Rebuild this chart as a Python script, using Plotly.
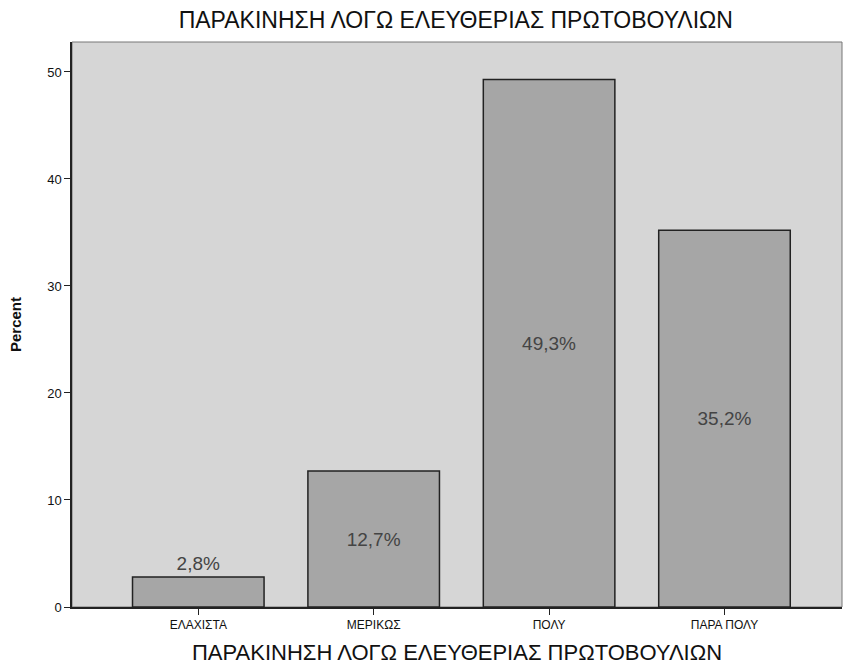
import plotly.graph_objects as go

categories = ["ΕΛΑΧΙΣΤΑ", "ΜΕΡΙΚΩΣ", "ΠΟΛΥ", "ΠΑΡΑ ΠΟΛΥ"]
percent = [2.8, 12.7, 49.3, 35.2]
y_ticks = [0, 10, 20, 30, 40, 50]

title = "ΠΑΡΑΚΙΝΗΣΗ ΛΟΓΩ ΕΛΕΥΘΕΡΙΑΣ ΠΡΩΤΟΒΟΥΛΙΩΝ"
narrow = "Liberation Sans Narrow, Arial Narrow, Liberation Sans, sans-serif"

labels = [f"{v:.1f}%".replace(".", ",") for v in percent]
# the smallest bar gets its label above it, like the original
positions = ["outside" if v < 5 else "inside" for v in percent]

fig = go.Figure()
fig.add_trace(go.Bar(
    x=list(range(len(categories))), y=percent,
    width=0.75,
    marker=dict(color="#a6a6a6", line=dict(color="#222222", width=1.5)),
    text=labels, textposition=positions,
    insidetextanchor="middle",
    textfont=dict(family=narrow, size=19, color="#444444"),
    cliponaxis=False,
))

fig.update_layout(
    width=844, height=668,
    margin=dict(l=72, r=2, t=42, b=61),
    paper_bgcolor="white",
    plot_bgcolor="#d6d6d6",
    showlegend=False,
    title=dict(text=title, x=0.54, xanchor="center", y=0.97, yanchor="middle",
               font=dict(family=narrow, size=23, color="#111111")),
    font=dict(family=narrow, color="#111111"),
)
fig.update_xaxes(
    range=[-0.72, 3.67],
    tickvals=list(range(len(categories))), ticktext=categories,
    ticks="outside", ticklen=6, tickcolor="#222222",
    tickfont=dict(family=narrow, size=12),
    showline=True, linecolor="#222222", linewidth=1.5, mirror=False,
    showgrid=False, zeroline=False,
    title=dict(text=title, font=dict(family=narrow, size=22), standoff=13),
)
fig.update_yaxes(
    range=[0, 52.8],
    tickvals=y_ticks,
    ticks="outside", ticklen=6, tickcolor="#222222",
    tickfont=dict(family=narrow, size=13),
    showline=True, linecolor="#222222", linewidth=1.5,
    showgrid=False, zeroline=False,
    title=dict(text="<b>Percent</b>", font=dict(family="Liberation Sans, Arial, sans-serif", size=15), standoff=22),
)
# thin border on the top and right of the plot area
fig.add_shape(type="rect", xref="paper", yref="paper", x0=0, y0=0, x1=1, y1=1,
              line=dict(color="#777777", width=1), layer="below")

fig.write_html("out.html", config={"displayModeBar": False},
               post_script="document.body.style.margin='0';document.body.style.overflow='hidden';")
